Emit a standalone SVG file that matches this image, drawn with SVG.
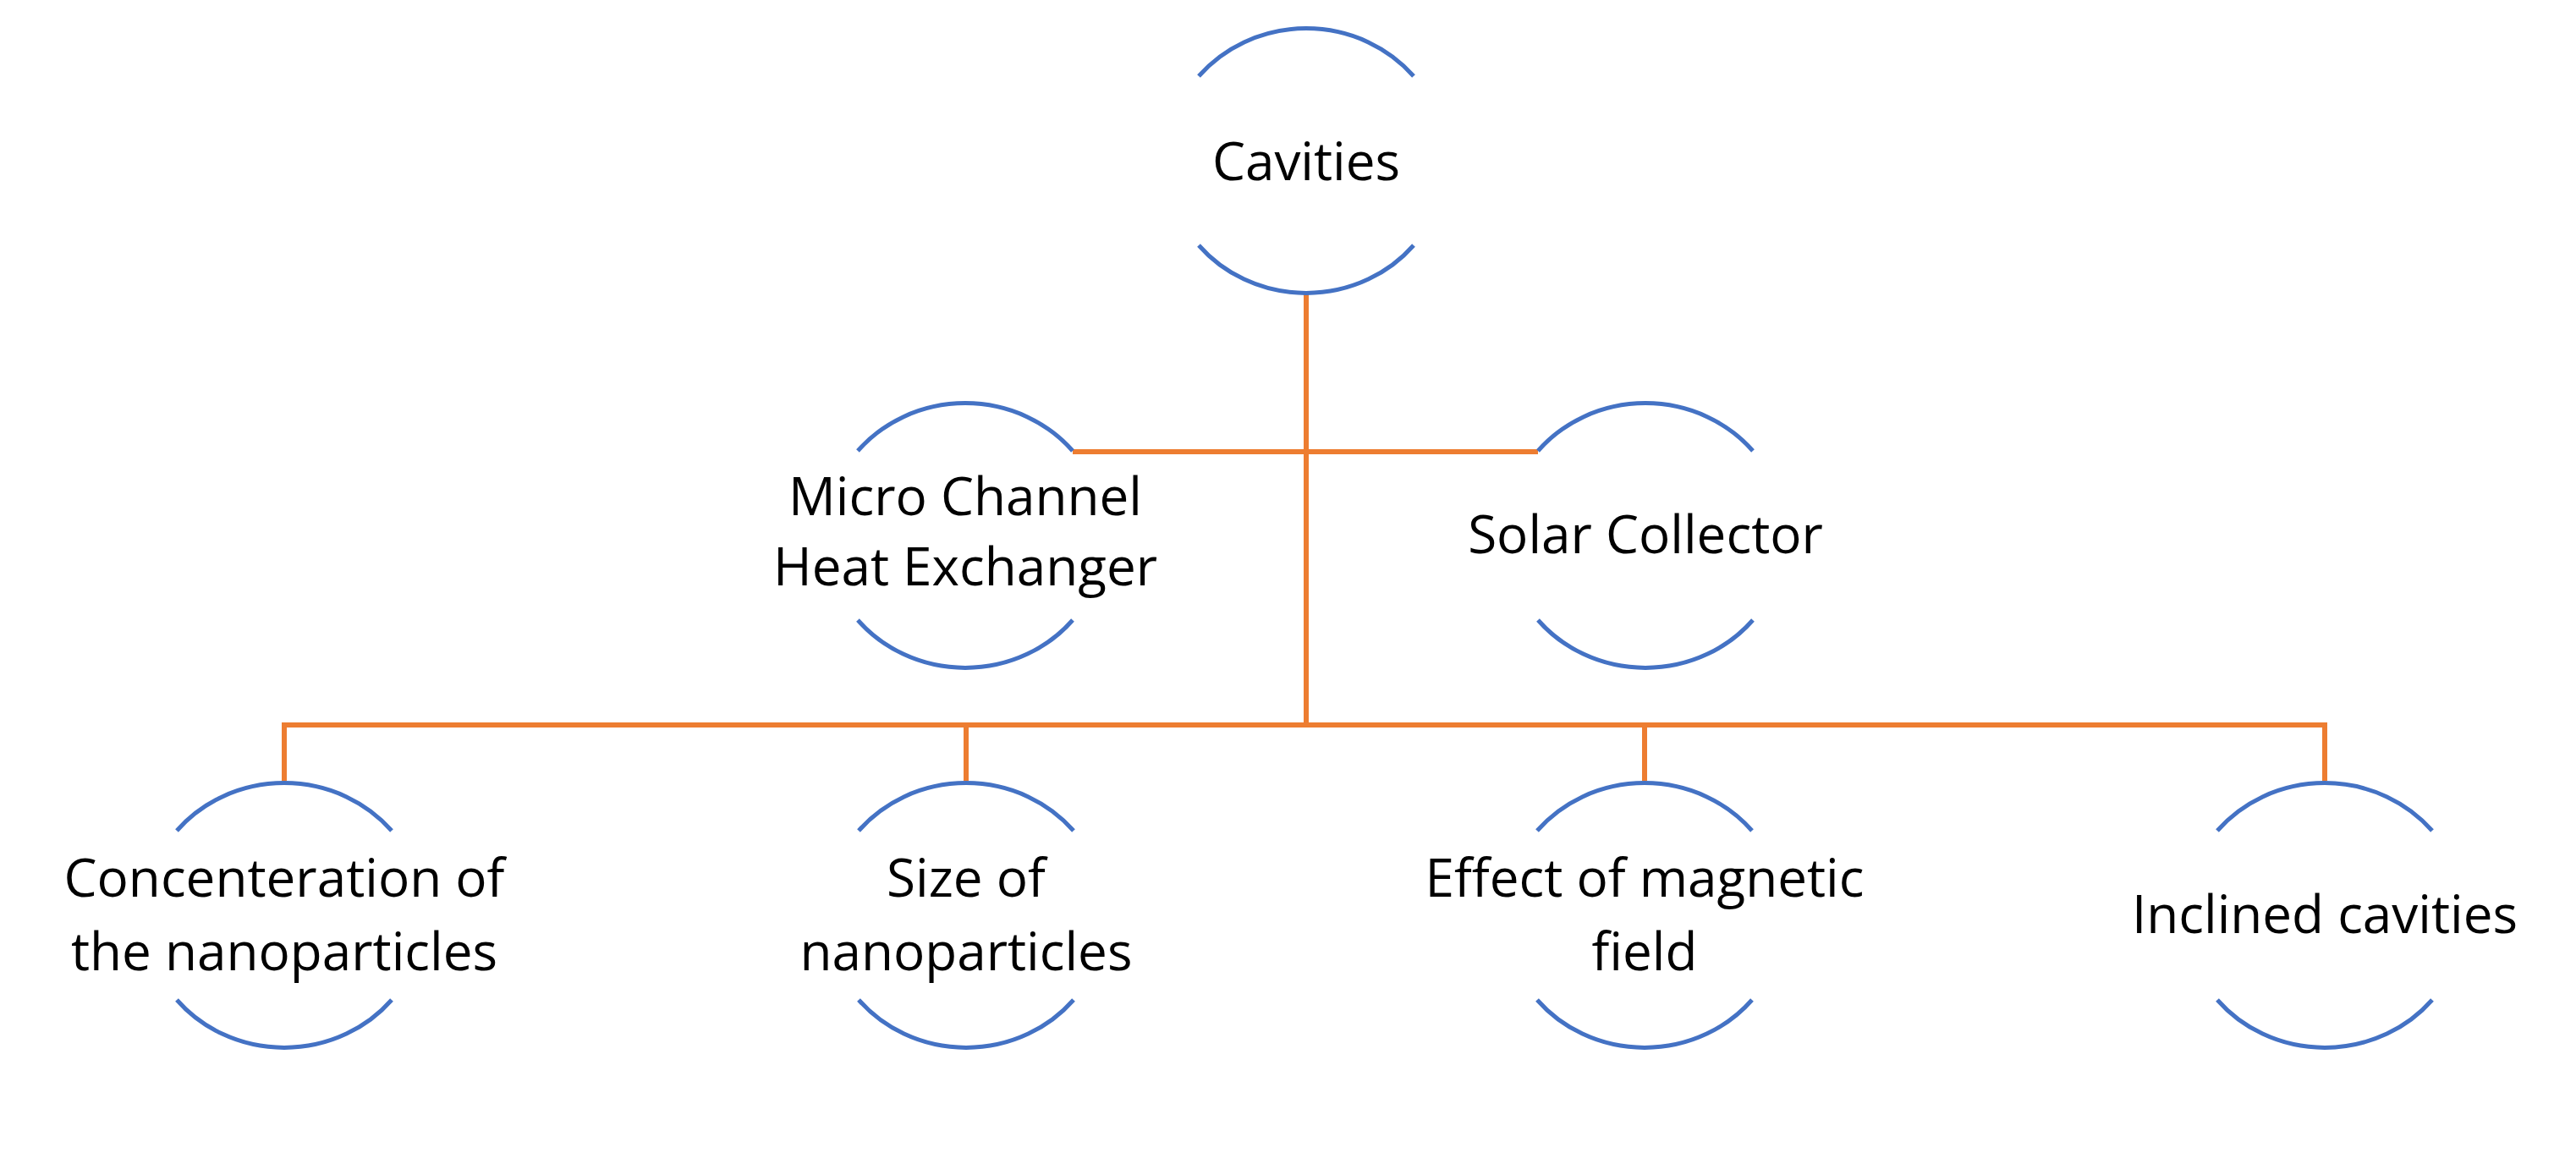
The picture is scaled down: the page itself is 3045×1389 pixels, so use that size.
<svg xmlns="http://www.w3.org/2000/svg" width="3045" height="1389" viewBox="0 0 3045 1389">
<style>
.arc{fill:none;stroke:#4472C4;stroke-width:5}
.con{fill:none;stroke:#ED7D31;stroke-width:6}
text{font-family:"Open Sans","Noto Sans",sans-serif;font-size:62px;fill:#000;text-anchor:middle}
</style>
<rect width="3045" height="1389" fill="#fff"/>
<defs>
<g id="shape">
<path class="arc" d="M-127,-100 A165,156 0 0 1 127,-100"/>
<path class="arc" d="M-127,100 A165,156 0 0 0 127,100"/>
</g>
</defs>
<g id="connectors">
<path class="con" d="M1544,346 V854"/>
<path class="con" d="M1268,534 H1818"/>
<path class="con" d="M336,923 V857 H2748 V923"/>
<path class="con" d="M1142,857 V923"/>
<path class="con" d="M1944,857 V923"/>
</g>
<g id="cavities"><use href="#shape" x="1544" y="190"/><text x="1544" y="213">Cavities</text></g>
<g id="micro"><use href="#shape" x="1141" y="633"/><text x="1141" y="609">Micro Channel</text><text x="1141" y="692">Heat Exchanger</text></g>
<g id="solar"><use href="#shape" x="1945" y="633"/><text x="1945" y="654">Solar Collector</text></g>
<g id="conc"><use href="#shape" x="336" y="1082"/><text x="336" y="1060">Concenteration of</text><text x="336" y="1147">the nanoparticles</text></g>
<g id="size"><use href="#shape" x="1142" y="1082"/><text x="1142" y="1060">Size of</text><text x="1142" y="1147">nanoparticles</text></g>
<g id="magnetic"><use href="#shape" x="1944" y="1082"/><text x="1944" y="1060">Effect of magnetic</text><text x="1944" y="1147">field</text></g>
<g id="inclined"><use href="#shape" x="2748" y="1082"/><text x="2748" y="1103">Inclined cavities</text></g>
</svg>
